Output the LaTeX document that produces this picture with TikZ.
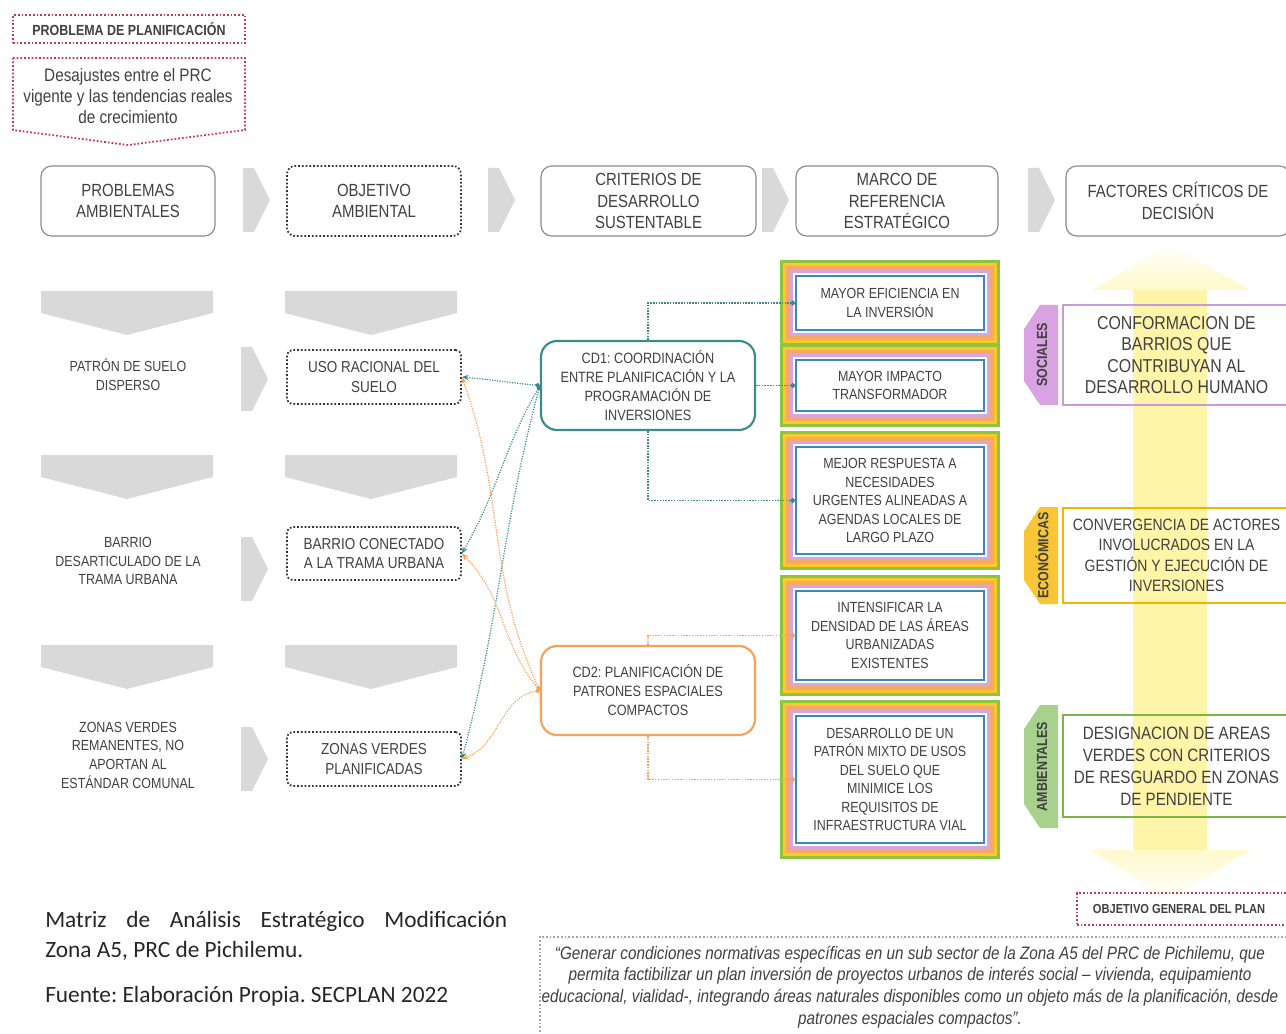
\documentclass[tikz,border=0pt]{standalone}
\usepackage{fontspec}
\setmainfont{Liberation Sans}[FakeStretch=0.85]
\newfontfamily\capfont{Carlito}
\usetikzlibrary{arrows.meta, positioning}
\frenchspacing

\definecolor{txtgray}{HTML}{404040}
\definecolor{boxgray}{HTML}{8C8C8C}
\definecolor{chevgray}{HTML}{D9D9D9}
\definecolor{planred}{HTML}{C8374B}
\definecolor{cdteal}{HTML}{3A8C8C}
\definecolor{cdorange}{HTML}{F4A259}
\definecolor{mgreen}{HTML}{8CC63F}
\definecolor{myellow}{HTML}{FFC72C}
\definecolor{morange}{HTML}{F5A962}
\definecolor{mlilac}{HTML}{D7A6E0}
\definecolor{mblue}{HTML}{3F87B5}
\definecolor{flilac}{HTML}{C99AD8}
\definecolor{fgold}{HTML}{F2B705}
\definecolor{fgreen}{HTML}{7DB544}
\definecolor{tsoc}{HTML}{D9A3E3}
\definecolor{teco}{HTML}{F8C537}
\definecolor{tamb}{HTML}{A9D18E}
\definecolor{yelarrow}{HTML}{FFF5A8}

\tikzset{
  boxsize/.style 2 args={minimum width=#1*0.75pt, minimum height=#2*0.75pt},
  dotline/.style={dash pattern=on 1.3pt off 1.5pt, line width=1.3pt},
  hdr/.style={draw=boxgray, line width=0.9pt, rounded corners=8pt, inner sep=0pt,
    align=center, text=txtgray, font={\fontsize{13.2}{16}\selectfont}},
  objbox/.style={draw=black!80, dotline, rounded corners=4pt, inner sep=0pt,
    align=center, text=txtgray, font={\fontsize{11.9}{14.5}\selectfont}},
  problbl/.style={align=center, text=txtgray, font={\fontsize{11}{14}\selectfont}},
  chev/.style={fill=chevgray},
  cdbox/.style={draw=#1, line width=1.6pt, rounded corners=12pt, inner sep=0pt,
    align=center, text=txtgray, font={\fontsize{11.2}{14.3}\selectfont}},
  marcobox/.style={draw=mblue, line width=0.9pt, inner sep=0pt, align=center,
    text=txtgray, font={\fontsize{11}{13.9}\selectfont}},
  factbox/.style={draw=#1, line width=1.5pt, inner sep=0pt, align=center, text=txtgray},
  tagtxt/.style={rotate=90, text=txtgray, font={\bfseries\fontsize{11}{13}\selectfont}},
  redbox/.style={draw=planred, dotline, inner sep=0pt, align=center, text=txtgray},
  mlink/.style={draw=#1, densely dotted, line width=1.1pt, -{Circle[length=4pt]}},
  objlink/.style={draw=#1, densely dotted, line width=0.9pt,
    {Circle[length=3.5pt]}-{Stealth[length=5pt, width=4pt]}},
}

\begin{document}
\begin{tikzpicture}[x=0.75pt, y=0.75pt]
\useasboundingbox (0,0) rectangle (1286,-1034);

% problema de planificacion
\node[redbox, boxsize={232}{28}, font={\bfseries\fontsize{11}{13}\selectfont}] (ppl) at (129,-29) {PROBLEMA DE PLANIFICACIÓN};
\draw[planred, dotline] (13,-58) -- (245,-58) -- (245,-130) -- (128,-145) -- (13,-130) -- cycle;
\node[align=center, text=txtgray, font={\fontsize{13.5}{16}\selectfont}] (desaj) at (128,-96)
  {Desajustes entre el PRC\\vigente y las tendencias reales\\de crecimiento};

% cabeceras
\node[hdr, boxsize={174}{70}] (pa) at (128,-201) {PROBLEMAS\\AMBIENTALES};
\node[hdr, dotline, draw=black!80, rounded corners=6pt, boxsize={174}{70}] (oa) at (374,-201) {OBJETIVO\\AMBIENTAL};
\node[hdr, boxsize={215}{70}] (cds) at (648.5,-201) {CRITERIOS DE\\DESARROLLO\\SUSTENTABLE};
\node[hdr, boxsize={202}{70}] (mre) at (897,-201) {MARCO DE\\REFERENCIA\\ESTRATÉGICO};
\node[hdr, boxsize={224}{70}] (fcd) at (1178,-201) {FACTORES CRÍTICOS DE\\DECISIÓN};

\foreach \x in {243, 488, 762, 1028}
  \fill[chev] (\x,-168) -- ++(11,0) -- ++(16,-32) -- ++(-16,-32) -- ++(-11,0) -- cycle;
\foreach \y in {347, 537, 727}
  \fill[chev] (241,-\y) -- ++(11,0) -- ++(16,-32) -- ++(-16,-32) -- ++(-11,0) -- cycle;
\foreach \x in {41, 285}
  \foreach \y in {291, 455, 645}
    \fill[chev] (\x,-\y) -- ++(172,0) -- ++(0,-22) -- ++(-86,-22) -- ++(-86,22) -- cycle;

% problemas y objetivos
\node[problbl] (probA) at (128,-375) {PATRÓN DE SUELO\\DISPERSO};
\node[problbl] (probB) at (128,-561) {BARRIO\\DESARTICULADO DE LA\\TRAMA URBANA};
\node[problbl] (probC) at (128,-755) {ZONAS VERDES\\REMANENTES, NO\\APORTAN AL\\ESTÁNDAR COMUNAL};

\node[objbox, boxsize={174}{54}] (objA) at (374,-377) {USO RACIONAL DEL\\SUELO};
\node[objbox, boxsize={174}{53}] (objB) at (374,-553.5) {BARRIO CONECTADO\\A LA TRAMA URBANA};
\node[objbox, boxsize={174}{54}] (objC) at (374,-759) {ZONAS VERDES\\PLANIFICADAS};

% criterios de desarrollo sustentable
\node[cdbox=cdteal, boxsize={214}{89}] (cdone) at (648,-385.5)
  {CD1: COORDINACIÓN\\ENTRE PLANIFICACIÓN Y LA\\PROGRAMACIÓN DE\\INVERSIONES};
\node[cdbox=cdorange, boxsize={214}{89}] (cdtwo) at (648,-690.5)
  {CD2: PLANIFICACIÓN DE\\PATRONES ESPACIALES\\COMPACTOS};

% marco de referencia
\node[marcobox, boxsize={188}{54}] (mA) at (890,-303) {MAYOR EFICIENCIA EN\\LA INVERSIÓN};
\node[marcobox, boxsize={188}{51}] (mB) at (890,-385.5) {MAYOR IMPACTO\\TRANSFORMADOR};
\node[marcobox, boxsize={188}{107}] (mC) at (890,-500.5)
  {MEJOR RESPUESTA A\\NECESIDADES\\URGENTES ALINEADAS A\\AGENDAS LOCALES DE\\LARGO PLAZO};
\node[marcobox, boxsize={188}{89}] (mD) at (890,-635.5)
  {INTENSIFICAR LA\\DENSIDAD DE LAS ÁREAS\\URBANIZADAS\\EXISTENTES};
\node[marcobox, boxsize={188}{127}] (mE) at (890,-779.5)
  {DESARROLLO DE UN\\PATRÓN MIXTO DE USOS\\DEL SUELO QUE\\MINIMICE LOS\\REQUISITOS DE\\INFRAESTRUCTURA VIAL};
\foreach \m in {mA, mB, mC, mD, mE}
  \foreach \d/\col/\w in {4/mlilac/2.5, 7.5/morange/3.5, 11/myellow/3.5, 14/mgreen/2.5}
    \draw[\col, line width=\w*0.75pt] ([shift={(-\d,\d)}]\m.north west) rectangle ([shift={(\d,-\d)}]\m.south east);

\draw[mlink=cdteal] (cdone.north) |- (mA.west);
\draw[mlink=cdteal] (cdone.east) -- (mB.west);
\draw[mlink=cdteal] (cdone.south) |- (mC.west);
\draw[mlink=cdorange] (cdtwo.north) |- (mD.west);
\draw[mlink=cdorange] (cdtwo.south) |- (mE.west);

\draw[objlink=cdteal] (cdone.west) to[out=175, in=-5] (objA.east);
\draw[objlink=cdteal] (cdone.west) to[out=240, in=60] (objB.east);
\draw[objlink=cdteal] (cdone.west) to[out=255, in=75] (objC.east);
\draw[objlink=cdorange] (cdtwo.west) to[out=115, in=-70] (objA.east);
\draw[objlink=cdorange] (cdtwo.west) to[out=130, in=-45] (objB.east);
\draw[objlink=cdorange] (cdtwo.west) to[out=190, in=20] (objC.east);

% factores criticos
\shade[top color=white, bottom color=yelarrow!60] (1170,-243) -- (1250,-290) -- (1092,-290) -- cycle;
\fill[yelarrow] (1133,-290) rectangle (1207,-850);
\shade[top color=yelarrow!60, bottom color=white] (1090,-850) -- (1250,-850) -- (1170,-900) -- cycle;

\node[factbox=flilac, boxsize={227}{100}, font={\fontsize{14}{16}\selectfont}] (fSoc) at (1176.5,-355)
  {CONFORMACION DE\\BARRIOS QUE\\CONTRIBUYAN AL\\DESARROLLO HUMANO};
\node[factbox=fgold, boxsize={227}{95}, font={\fontsize{12.3}{15.4}\selectfont}] (fEco) at (1176.5,-555.5)
  {CONVERGENCIA DE ACTORES\\INVOLUCRADOS EN LA\\GESTIÓN Y EJECUCIÓN DE\\INVERSIONES};
\node[factbox=fgreen, boxsize={227}{102}, font={\fontsize{13.4}{16.5}\selectfont}] (fAmb) at (1176.5,-766)
  {DESIGNACION DE AREAS\\VERDES CON CRITERIOS\\DE RESGUARDO EN ZONAS\\DE PENDIENTE};

\foreach \ya/\yb/\col/\txt/\nm in {305/405/tsoc/SOCIALES/tSoc, 507/604/teco/ECONÓMICAS/tEco, 705/828/tamb/AMBIENTALES/tAmb} {
  \fill[\col] (1058,-\ya) -- (1040,-\ya) -- (1024,-\ya-24) -- (1024,-\yb+24) -- (1040,-\yb) -- (1058,-\yb) -- cycle;
  \node[tagtxt] (\nm) at (1042,{-(\ya+\yb)/2}) {\txt};
}

% objetivo general
\node[redbox, boxsize={223}{32}] (ogp) at (1188.5,-909) {};
\node[text=txtgray, font={\bfseries\fontsize{9.8}{12}\selectfont}] (ogptxt) at (1179,-909) {OBJETIVO GENERAL DEL PLAN};
\node[draw=gray!70, dotline, inner sep=0pt, boxsize={760}{108}] (qbox) at (920,-991) {};
\node[align=center, text=txtgray, font={\itshape\fontsize{13.5}{16.3}\selectfont}] (qtxt) at (910,-987)
  {“Generar condiciones normativas específicas en un sub sector de la Zona A5 del PRC de Pichilemu, que\\
   permita factibilizar un plan inversión de proyectos urbanos de interés social – vivienda, equipamiento\\
   educacional, vialidad-, integrando áreas naturales disponibles como un objeto más de la planificación, desde\\
   patrones espaciales compactos”.};

% leyenda
\node[anchor=west, inner sep=0pt, text width=346.5pt, align=justify, text=black!85,
  font={\capfont\fontsize{17.5}{22.5}\selectfont}] (cap) at (45,-936)
  {Matriz de Análisis Estratégico Modificación\linebreak Zona A5, PRC de Pichilemu.};
\node[anchor=west, inner sep=0pt, text=black!85, font={\capfont\fontsize{17.5}{22.5}\selectfont}] (src) at (45,-996)
  {Fuente: Elaboración Propia. SECPLAN 2022};

\end{tikzpicture}
\end{document}
